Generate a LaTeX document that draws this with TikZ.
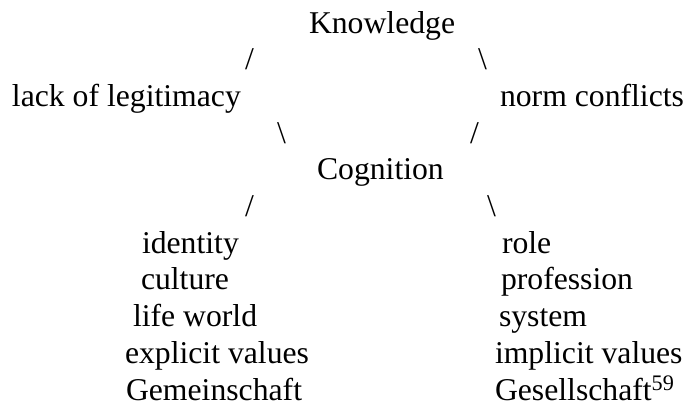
\documentclass[tikz,border=0pt]{standalone}
\usepackage{fontspec}
\setmainfont{Liberation Serif}
\begin{document}
\begin{tikzpicture}[x=1pt,y=-1pt,
  every node/.style={inner sep=0pt,outer sep=0pt,anchor=base west,
    font=\fontsize{31.7}{36.5}\selectfont},
  slash/.style={}]
\useasboundingbox (0,0) rectangle (687,405);
% row baselines
\def\rowA{33}\def\rowB{69.7}\def\rowC{106.4}\def\rowD{143.1}\def\rowE{179.8}
\def\rowF{216.5}\def\rowG{253.2}\def\rowH{289.9}\def\rowI{326.6}\def\rowJ{363.3}\def\rowK{400}
% top and middle terms
\node (know) at (309,\rowA) {Knowledge};
\node[slash] (s1) at (245,\rowB) {/};
\node[slash] (s2) at (478,\rowB) {\textbackslash};
\node (lack) at (12,\rowC) {lack of legitimacy};
\node (norm) at (500,\rowC) {norm conflicts};
\node[slash] (s3) at (277,\rowD) {\textbackslash};
\node[slash] (s4) at (470,\rowD) {/};
\node (cogn) at (317,\rowE) {Cognition};
\node[slash] (s5) at (245,\rowF) {/};
\node[slash] (s6) at (487,\rowF) {\textbackslash};
% left column
\node (id)   at (142,\rowG) {identity};
\node (cult) at (141,\rowH) {culture};
\node (life) at (133,\rowI) {life world};
\node (expl) at (125,\rowJ) {explicit values};
\node (gem)  at (126,\rowK) {Gemeinschaft};
% right column
\node (role) at (502,\rowG) {role};
\node (prof) at (501,\rowH) {profession};
\node (sys)  at (499,\rowI) {system};
\node (impl) at (495,\rowJ) {implicit values};
\node (ges)  at (495,\rowK) {Gesellschaft\textsuperscript{59}};
\end{tikzpicture}
\end{document}
